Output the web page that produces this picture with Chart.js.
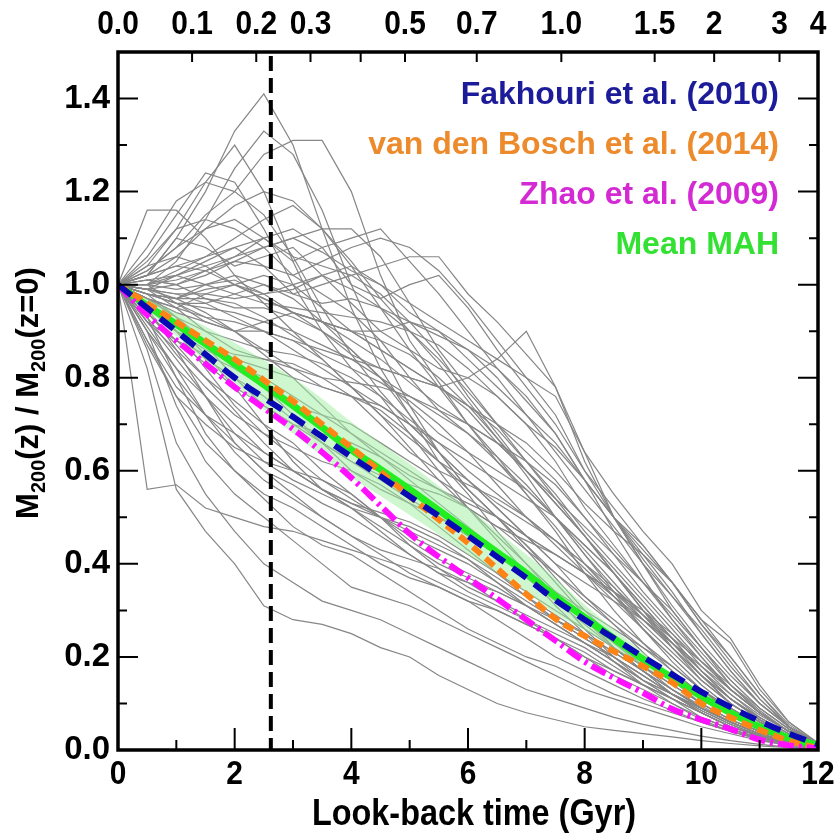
<!DOCTYPE html>
<html>
<head>
<meta charset="utf-8">
<script src="https://cdn.jsdelivr.net/npm/chart.js@4.4.1/dist/chart.umd.min.js"></script>
<style>
html,body{margin:0;padding:0;background:#fff;}
#wrap{width:838px;height:834px;}
</style>
</head>
<body>
<div id="wrap"><canvas id="c" width="838" height="834"></canvas></div>
<script>
// ---------- DATA ----------
const lookback = [0,0.5,1,1.5,2,2.5,3,3.5,4,4.5,5,5.5,6,6.5,7,7.5,8,8.5,9,9.5,10,10.5,11,11.5,12];

// individual halo mass accretion histories (grey)
const mah01 = [1,1.02,1.1,1.2,1.33,1.41,1.3,1.12,0.95,0.82,0.72,0.62,0.55,0.47,0.40,0.33,0.26,0.2,0.15,0.11,0.07,0.045,0.025,0.012,0.004];
const mah02 = [1,1.0,1.05,1.14,1.25,1.33,1.28,1.16,1.0,0.86,0.74,0.64,0.56,0.5,0.43,0.36,0.29,0.22,0.17,0.12,0.08,0.05,0.03,0.015,0.005];
const mah03 = [1,1.03,1.08,1.15,1.2,1.28,1.31,1.31,1.2,1.02,0.88,0.79,0.7,0.62,0.55,0.47,0.38,0.3,0.23,0.17,0.12,0.08,0.05,0.025,0.008];
const mah04 = [1,1.04,1.12,1.22,1.3,1.2,1.05,0.92,0.86,0.8,0.72,0.64,0.56,0.5,0.44,0.37,0.3,0.24,0.18,0.13,0.09,0.06,0.035,0.018,0.006];
const mah05 = [1,1.06,1.15,1.24,1.22,1.12,1.0,0.9,0.82,0.76,0.68,0.6,0.52,0.45,0.38,0.31,0.25,0.19,0.14,0.1,0.065,0.04,0.022,0.01,0.003];
const mah06 = [1,1.08,1.18,1.22,1.2,1.15,1.06,0.95,0.85,0.77,0.7,0.64,0.58,0.52,0.46,0.4,0.33,0.27,0.21,0.15,0.1,0.065,0.04,0.02,0.007];
const mah07 = [1,1.16,1.16,1.1,1.02,0.96,0.9,0.84,0.78,0.72,0.65,0.58,0.52,0.46,0.4,0.34,0.28,0.22,0.17,0.12,0.08,0.05,0.03,0.015,0.005];
const mah08 = [1,1.02,1.04,1.06,1.08,1.1,1.05,1.08,1.1,1.12,1.05,0.98,0.9,0.82,0.75,0.68,0.58,0.47,0.37,0.28,0.2,0.13,0.08,0.04,0.012];
const mah09 = [1,0.98,0.97,1.0,1.02,1.0,0.98,1.0,1.02,1.04,1.06,1.06,0.98,0.92,0.85,0.78,0.64,0.5,0.4,0.31,0.23,0.16,0.1,0.05,0.015];
const mah10 = [1,0.97,0.95,0.93,0.92,0.9,0.88,0.86,0.84,0.82,0.8,0.78,0.8,0.84,0.9,0.78,0.62,0.5,0.4,0.3,0.22,0.14,0.08,0.04,0.01];
const mah11 = [1,1.0,1.01,1.03,1.05,1.08,1.1,1.07,1.03,1.0,0.96,0.92,0.88,0.84,0.8,0.76,0.64,0.55,0.47,0.4,0.3,0.24,0.14,0.06,0.015];
const mah12 = [1,0.99,0.98,0.98,0.97,0.98,1.0,1.02,0.99,0.95,0.92,0.89,0.86,0.82,0.76,0.68,0.58,0.5,0.44,0.36,0.27,0.2,0.12,0.05,0.012];
const mah13 = [1,1.02,1.06,1.12,1.17,1.2,1.18,1.12,1.05,0.97,0.9,0.83,0.75,0.67,0.59,0.5,0.42,0.34,0.26,0.19,0.13,0.08,0.045,0.02,0.006];
const mah14 = [1,1.0,1.03,1.06,1.1,1.14,1.17,1.12,1.04,0.95,0.86,0.78,0.7,0.63,0.55,0.48,0.4,0.33,0.26,0.2,0.14,0.09,0.05,0.022,0.006];
const mah15 = [1,1.01,1.02,1.04,1.06,1.08,1.1,1.12,1.12,1.06,0.96,0.86,0.78,0.7,0.62,0.54,0.46,0.38,0.3,0.23,0.16,0.1,0.06,0.03,0.008];
const mah16 = [1,1.03,1.08,1.12,1.14,1.1,1.06,1.04,1.02,0.98,0.92,0.85,0.76,0.68,0.6,0.53,0.46,0.38,0.3,0.22,0.15,0.1,0.06,0.03,0.008];
const mah17 = [1,0.98,0.96,0.95,0.94,0.92,0.9,0.87,0.84,0.8,0.76,0.72,0.68,0.63,0.57,0.5,0.43,0.36,0.29,0.22,0.16,0.1,0.06,0.03,0.008];
const mah18 = [1,1.0,0.99,1.0,1.01,0.98,0.94,0.9,0.85,0.82,0.8,0.78,0.74,0.69,0.62,0.55,0.47,0.4,0.33,0.26,0.19,0.13,0.08,0.04,0.01];
const mah19 = [1,0.97,0.93,0.9,0.88,0.86,0.85,0.83,0.8,0.76,0.71,0.66,0.6,0.55,0.5,0.45,0.4,0.35,0.29,0.23,0.17,0.11,0.07,0.035,0.01];
const mah20 = [1,0.99,0.98,0.96,0.93,0.9,0.86,0.82,0.78,0.74,0.7,0.66,0.62,0.58,0.54,0.5,0.44,0.38,0.31,0.24,0.17,0.11,0.065,0.03,0.008];
const mah21 = [1,0.96,0.92,0.88,0.84,0.82,0.8,0.78,0.76,0.73,0.68,0.62,0.56,0.5,0.44,0.38,0.32,0.27,0.22,0.17,0.12,0.08,0.045,0.02,0.005];
const mah22 = [1,1.01,1.0,0.97,0.95,0.95,0.93,0.9,0.86,0.8,0.74,0.68,0.64,0.6,0.56,0.5,0.42,0.35,0.28,0.22,0.16,0.11,0.065,0.03,0.008];
const mah23 = [1,0.98,0.97,0.97,0.96,0.93,0.89,0.85,0.82,0.79,0.75,0.7,0.64,0.57,0.5,0.44,0.38,0.32,0.26,0.2,0.14,0.09,0.05,0.025,0.006];
const mah24 = [1,0.99,0.95,0.9,0.86,0.84,0.83,0.8,0.76,0.7,0.64,0.6,0.57,0.54,0.5,0.45,0.39,0.33,0.27,0.21,0.15,0.1,0.06,0.03,0.008];
const mah25 = [1,0.97,0.94,0.92,0.9,0.9,0.88,0.84,0.78,0.72,0.67,0.62,0.58,0.52,0.46,0.4,0.36,0.32,0.28,0.23,0.17,0.12,0.075,0.04,0.012];
const mah26 = [1,0.98,0.96,0.93,0.9,0.86,0.82,0.78,0.76,0.74,0.7,0.64,0.58,0.53,0.49,0.45,0.4,0.34,0.28,0.22,0.16,0.11,0.07,0.035,0.01];
const mah27 = [1,0.94,0.88,0.83,0.78,0.74,0.7,0.66,0.62,0.58,0.54,0.5,0.46,0.42,0.37,0.32,0.27,0.22,0.17,0.13,0.09,0.06,0.035,0.017,0.005];
const mah28 = [1,0.93,0.85,0.78,0.72,0.68,0.65,0.62,0.6,0.57,0.53,0.48,0.43,0.38,0.33,0.28,0.24,0.2,0.16,0.12,0.085,0.055,0.03,0.015,0.004];
const mah29 = [1,0.95,0.9,0.84,0.8,0.76,0.71,0.66,0.6,0.56,0.53,0.5,0.47,0.43,0.38,0.33,0.28,0.23,0.18,0.14,0.1,0.065,0.04,0.02,0.006];
const mah30 = [1,0.9,0.82,0.76,0.7,0.64,0.6,0.56,0.53,0.5,0.47,0.44,0.41,0.37,0.33,0.29,0.25,0.21,0.17,0.13,0.09,0.06,0.035,0.017,0.005];
const mah31 = [1,0.92,0.84,0.76,0.68,0.62,0.58,0.55,0.52,0.5,0.48,0.45,0.41,0.36,0.31,0.27,0.23,0.19,0.15,0.11,0.08,0.05,0.03,0.014,0.004];
const mah32 = [1,0.88,0.78,0.72,0.68,0.64,0.6,0.56,0.52,0.47,0.42,0.38,0.34,0.31,0.28,0.25,0.22,0.18,0.14,0.11,0.08,0.05,0.03,0.014,0.004];
const mah33 = [1,0.56,0.57,0.52,0.5,0.48,0.47,0.45,0.43,0.41,0.39,0.36,0.33,0.3,0.27,0.24,0.21,0.17,0.14,0.11,0.08,0.05,0.03,0.015,0.004];
const mah34 = [1,0.82,0.56,0.47,0.40,0.31,0.28,0.27,0.25,0.22,0.2,0.16,0.13,0.1,0.08,0.065,0.05,0.042,0.035,0.028,0.02,0.014,0.009,0.005,0.002];
const mah35 = [1,0.86,0.66,0.55,0.47,0.4,0.36,0.32,0.3,0.28,0.25,0.22,0.19,0.16,0.13,0.11,0.09,0.07,0.055,0.042,0.03,0.02,0.012,0.006,0.002];
const mah36 = [1,0.9,0.74,0.62,0.55,0.5,0.45,0.4,0.35,0.33,0.31,0.28,0.25,0.22,0.19,0.16,0.13,0.11,0.09,0.07,0.05,0.035,0.02,0.01,0.003];
const mah37 = [1,0.88,0.76,0.66,0.6,0.54,0.48,0.44,0.42,0.38,0.34,0.3,0.26,0.23,0.2,0.18,0.15,0.12,0.1,0.08,0.06,0.04,0.025,0.012,0.003];
const mah38 = [1,0.93,0.8,0.68,0.6,0.55,0.52,0.48,0.44,0.4,0.37,0.35,0.32,0.28,0.24,0.2,0.17,0.14,0.11,0.085,0.06,0.04,0.025,0.012,0.004];
const mah39 = [1,0.91,0.82,0.72,0.64,0.58,0.54,0.5,0.46,0.43,0.41,0.39,0.36,0.32,0.28,0.24,0.2,0.16,0.13,0.1,0.07,0.045,0.027,0.013,0.004];
const mah40 = [1,0.95,0.86,0.76,0.66,0.6,0.57,0.53,0.5,0.46,0.42,0.38,0.36,0.34,0.31,0.27,0.23,0.19,0.15,0.12,0.09,0.06,0.035,0.017,0.005];
const mah41 = [1,0.96,0.9,0.82,0.74,0.68,0.63,0.58,0.54,0.5,0.46,0.43,0.4,0.36,0.32,0.28,0.24,0.2,0.16,0.12,0.09,0.06,0.035,0.017,0.005];
const mah42 = [1,0.92,0.86,0.8,0.75,0.7,0.66,0.6,0.55,0.5,0.45,0.41,0.38,0.35,0.31,0.27,0.23,0.19,0.15,0.12,0.085,0.055,0.032,0.016,0.005];
const mah43 = [1,1.04,1.06,1.04,1.0,0.97,0.94,0.92,0.9,0.88,0.85,0.8,0.74,0.67,0.6,0.53,0.46,0.39,0.32,0.25,0.18,0.12,0.07,0.035,0.01];
const mah44 = [1,1.02,1.1,1.08,1.04,1.06,1.08,1.02,0.96,0.9,0.86,0.82,0.8,0.76,0.7,0.62,0.52,0.44,0.36,0.28,0.21,0.14,0.085,0.04,0.012];
const mah45 = [1,0.99,1.02,1.05,1.08,1.04,0.98,0.96,0.97,0.95,0.9,0.84,0.77,0.7,0.64,0.58,0.5,0.42,0.34,0.27,0.2,0.13,0.08,0.04,0.012];
const mah46 = [1,0.97,0.95,0.98,1.0,1.02,1.0,0.95,0.9,0.86,0.82,0.78,0.73,0.66,0.6,0.54,0.48,0.42,0.36,0.3,0.22,0.15,0.09,0.045,0.012];
const mah47 = [1,1.05,1.12,1.14,1.12,1.08,1.02,0.98,0.94,0.88,0.8,0.73,0.68,0.62,0.56,0.5,0.44,0.38,0.3,0.24,0.17,0.11,0.065,0.03,0.008];
const mah48 = [1,1.0,0.96,0.92,0.9,0.92,0.94,0.92,0.88,0.84,0.79,0.74,0.7,0.66,0.62,0.57,0.5,0.43,0.36,0.29,0.22,0.15,0.09,0.045,0.012];
const mah49 = [1,0.95,0.9,0.87,0.85,0.84,0.82,0.8,0.79,0.78,0.76,0.73,0.7,0.66,0.6,0.53,0.46,0.38,0.31,0.24,0.17,0.11,0.065,0.03,0.008];
const mah50 = [1,0.98,0.93,0.88,0.82,0.78,0.74,0.72,0.7,0.66,0.62,0.58,0.54,0.5,0.46,0.42,0.38,0.33,0.28,0.23,0.18,0.13,0.08,0.04,0.012];
const mah51 = [1,1.0,1.02,1.0,0.98,0.96,0.95,0.94,0.93,0.92,0.9,0.87,0.82,0.76,0.7,0.65,0.58,0.5,0.42,0.34,0.25,0.17,0.1,0.05,0.014];
const mah52 = [1,0.96,0.9,0.86,0.83,0.8,0.76,0.72,0.68,0.64,0.6,0.56,0.52,0.48,0.45,0.42,0.38,0.34,0.29,0.24,0.19,0.14,0.09,0.045,0.012];
const mah53 = [1,0.98,0.97,0.99,1.0,0.97,0.94,0.92,0.9,0.86,0.82,0.78,0.74,0.7,0.66,0.6,0.53,0.47,0.42,0.36,0.28,0.23,0.13,0.06,0.015];
const mah54 = [1,0.9,0.8,0.72,0.66,0.6,0.55,0.5,0.46,0.42,0.38,0.35,0.32,0.3,0.27,0.24,0.2,0.17,0.14,0.11,0.08,0.05,0.03,0.015,0.004];
const mah55 = [1,0.94,0.87,0.8,0.73,0.66,0.6,0.56,0.53,0.51,0.49,0.46,0.42,0.38,0.34,0.3,0.26,0.22,0.18,0.14,0.1,0.065,0.04,0.02,0.005];
const mah56 = [1,0.87,0.76,0.7,0.65,0.62,0.6,0.58,0.55,0.5,0.44,0.39,0.35,0.32,0.29,0.26,0.23,0.2,0.16,0.12,0.09,0.06,0.035,0.017,0.005];
const mah57 = [1,0.95,0.91,0.85,0.78,0.7,0.62,0.56,0.52,0.48,0.44,0.4,0.37,0.34,0.31,0.28,0.25,0.21,0.17,0.13,0.095,0.06,0.035,0.017,0.005];
const mah58 = [1,0.97,0.93,0.87,0.8,0.74,0.7,0.68,0.66,0.63,0.58,0.53,0.48,0.43,0.38,0.34,0.3,0.26,0.22,0.18,0.13,0.09,0.055,0.028,0.008];
const mah59 = [1,0.92,0.88,0.85,0.82,0.78,0.72,0.66,0.62,0.59,0.57,0.55,0.52,0.48,0.43,0.38,0.33,0.28,0.23,0.18,0.13,0.085,0.05,0.025,0.007];
const mah60 = [1,0.99,0.97,0.94,0.9,0.85,0.8,0.74,0.68,0.63,0.59,0.56,0.53,0.5,0.46,0.42,0.38,0.34,0.3,0.25,0.19,0.13,0.08,0.04,0.01];
const mah61 = [1,1.01,1.0,1.02,1.05,1.04,1.02,1.05,1.08,1.1,1.08,1.03,0.96,0.88,0.8,0.72,0.6,0.5,0.41,0.33,0.25,0.17,0.1,0.05,0.014];
const mah62 = [1,0.99,1.0,1.03,1.06,1.1,1.12,1.08,1.0,0.97,1.0,1.02,0.95,0.86,0.78,0.7,0.6,0.52,0.44,0.36,0.27,0.19,0.11,0.05,0.013];
const mah63 = [1,1.02,1.04,1.03,1.0,0.98,0.99,1.02,1.04,1.0,0.94,0.9,0.86,0.8,0.72,0.64,0.56,0.48,0.4,0.33,0.26,0.18,0.11,0.05,0.013];
const mah64 = [1,0.98,0.96,0.96,0.98,1.0,0.97,0.92,0.9,0.9,0.92,0.9,0.84,0.78,0.72,0.66,0.58,0.5,0.43,0.36,0.28,0.2,0.12,0.055,0.014];
const individualMAHs = [mah01,mah02,mah03,mah04,mah05,mah06,mah07,mah08,mah09,mah10,mah11,mah12,mah13,mah14,mah15,mah16,mah17,mah18,mah19,mah20,
  mah21,mah22,mah23,mah24,mah25,mah26,mah27,mah28,mah29,mah30,mah31,mah32,mah33,mah34,mah35,mah36,mah37,mah38,mah39,mah40,
  mah41,mah42,mah43,mah44,mah45,mah46,mah47,mah48,mah49,mah50,mah51,mah52,mah53,mah54,mah55,mah56,mah57,mah58,mah59,mah60,
  mah61,mah62,mah63,mah64];

// model / mean curves
const meanMAH      = [1,0.955,0.915,0.873,0.83,0.785,0.74,0.693,0.645,0.603,0.56,0.515,0.47,0.425,0.38,0.33,0.285,0.24,0.195,0.155,0.115,0.08,0.05,0.026,0.01];
const meanUpper    = [1,0.97,0.94,0.91,0.875,0.838,0.8,0.755,0.705,0.66,0.615,0.567,0.52,0.47,0.42,0.368,0.312,0.26,0.21,0.165,0.122,0.085,0.054,0.028,0.011];
const meanLower    = [1,0.94,0.89,0.836,0.785,0.732,0.68,0.631,0.585,0.546,0.505,0.463,0.42,0.38,0.34,0.292,0.258,0.22,0.18,0.145,0.108,0.075,0.046,0.024,0.009];
const fakhouri2010 = [1,0.95,0.9,0.85,0.8,0.757,0.716,0.673,0.63,0.588,0.545,0.503,0.46,0.415,0.37,0.322,0.28,0.24,0.2,0.162,0.125,0.092,0.062,0.035,0.012];
const vdBosch2014  = [1,0.96,0.92,0.88,0.84,0.795,0.75,0.7,0.65,0.598,0.545,0.495,0.445,0.39,0.335,0.282,0.245,0.212,0.18,0.145,0.1,0.07,0.043,0.02,0.004];
const zhao2009     = [1,0.935,0.88,0.83,0.78,0.735,0.69,0.64,0.585,0.525,0.465,0.415,0.37,0.325,0.28,0.235,0.19,0.155,0.123,0.088,0.065,0.045,0.022,0.01,0.003];

// axes
const yTickValues  = [0,0.2,0.4,0.6,0.8,1.0,1.2,1.4];
const yMinorValues = [0.1,0.3,0.5,0.7,0.9,1.1,1.3];
const xTickValues  = [0,2,4,6,8,10,12];
const xMinorValues = [1,3,5,7,9,11];
const zTickLookback = [0,1.27,2.37,3.30,4.16,4.92,6.15,7.60,9.20,10.22,11.34,12.0];
const zTickLabels   = ['0.0','0.1','0.2','0.3','','0.5','0.7','1.0','1.5','2','3','4'];
const markerLookback = 2.62;
const xAxisTitle = 'Look-back time (Gyr)';
const legendLabels = ['Fakhouri et al. (2010)','van den Bosch et al. (2014)','Zhao et al. (2009)','Mean MAH'];
const legendColors = ['#1c1c9a','#ec8a2c','#d42ad4','#33e133'];

// ---------- CHART ----------
const SANS = '"Liberation Sans",Arial,Helvetica,sans-serif';
const pts = arr => lookback.map((x,i)=>({x:x,y:arr[i]}));

const datasets = [];
datasets.push({data:pts(fakhouri2010), borderColor:'#0a0ab4', borderWidth:6, borderDash:[17,10], order:0, cubicInterpolationMode:'monotone'});
datasets.push({data:pts(zhao2009), borderColor:'#ff10ff', borderWidth:6, borderDash:[16,5,3,5], order:1, cubicInterpolationMode:'monotone'});
datasets.push({data:pts(vdBosch2014), borderColor:'#ff8416', borderWidth:6, borderDash:[11,6], order:2, cubicInterpolationMode:'monotone'});
datasets.push({data:pts(meanMAH), borderColor:'#22ee22', borderWidth:7, order:3, cubicInterpolationMode:'monotone'});
datasets.push({data:pts(meanUpper), borderColor:'rgba(0,0,0,0)', borderWidth:0, order:4, fill:false, cubicInterpolationMode:'monotone'});
datasets.push({data:pts(meanLower), borderColor:'rgba(0,0,0,0)', borderWidth:0, order:5, fill:'-1', backgroundColor:'rgba(160,240,160,0.5)', cubicInterpolationMode:'monotone'});
individualMAHs.forEach(arr=>{
  datasets.push({data:pts(arr), borderColor:'#868686', borderWidth:1.2, order:10, tension:0});
});

function condensedText(ctx, text, cx, cy, size, sx){
  ctx.save();
  ctx.translate(cx, cy); ctx.scale(sx, 1);
  ctx.font = 'bold '+size+'px '+SANS;
  ctx.textAlign = 'center'; ctx.textBaseline = 'middle';
  ctx.fillStyle = '#000';
  ctx.fillText(text, 0, 0);
  ctx.restore();
}

const decor = {
  id:'decor',
  afterDatasetsDraw(chart){
    const {ctx, chartArea:a, scales:{x}} = chart;
    ctx.save();
    ctx.strokeStyle='#000'; ctx.lineWidth=4; ctx.setLineDash([15,7]);
    const vx = x.getPixelForValue(markerLookback);
    ctx.beginPath(); ctx.moveTo(vx,a.top+4); ctx.lineTo(vx,a.bottom); ctx.stroke();
    ctx.restore();
  },
  afterDraw(chart){
    const {ctx, chartArea:a, scales:{x,y}} = chart;
    ctx.save();
    ctx.strokeStyle='#000'; ctx.lineCap='butt';
    // ticks
    ctx.lineWidth=2;
    ctx.beginPath();
    yTickValues.forEach(v=>{const p=y.getPixelForValue(v); ctx.moveTo(a.left,p); ctx.lineTo(a.left+20,p); ctx.moveTo(a.right,p); ctx.lineTo(a.right-20,p);});
    yMinorValues.forEach(v=>{const p=y.getPixelForValue(v); ctx.moveTo(a.left,p); ctx.lineTo(a.left+9,p); ctx.moveTo(a.right,p); ctx.lineTo(a.right-9,p);});
    xTickValues.forEach(v=>{const p=x.getPixelForValue(v); ctx.moveTo(p,a.bottom); ctx.lineTo(p,a.bottom-22);});
    xMinorValues.forEach(v=>{const p=x.getPixelForValue(v); ctx.moveTo(p,a.bottom); ctx.lineTo(p,a.bottom-10);});
    zTickLookback.forEach(v=>{const p=x.getPixelForValue(v); ctx.moveTo(p,a.top); ctx.lineTo(p,a.top+10);});
    ctx.stroke();
    // frame
    ctx.lineWidth=3.5;
    ctx.strokeRect(a.left,a.top,a.right-a.left,a.bottom-a.top);
    ctx.restore();
    // bottom tick labels, top redshift labels, x title (condensed bold)
    xTickValues.forEach(v=>condensedText(ctx, String(v), x.getPixelForValue(v), a.bottom+25, 34, 0.88));
    zTickLookback.forEach((v,i)=>{ if(zTickLabels[i]) condensedText(ctx, zTickLabels[i], x.getPixelForValue(v), a.top-27, 34, 0.88); });
    condensedText(ctx, xAxisTitle, (a.left+a.right)/2 + 6, a.bottom+65, 36, 0.9);
    // legend
    ctx.save();
    ctx.font='bold 32px '+SANS;
    ctx.textAlign='right'; ctx.textBaseline='middle';
    const ly=[95,145,195,245];
    legendLabels.forEach((t,i)=>{ctx.fillStyle=legendColors[i]; ctx.fillText(t,779,ly[i]);});
    // y title with subscripts
    const parts=[['M',0],['200',1],['(z) / M',0],['200',1],['(z=0)',0]];
    const mainF='bold 31px '+SANS, subF='bold 20px '+SANS;
    let total=0;
    parts.forEach(p=>{ctx.font=p[1]?subF:mainF; total+=ctx.measureText(p[0]).width;});
    ctx.translate(38,393); ctx.rotate(-Math.PI/2);
    ctx.fillStyle='#000'; ctx.textAlign='left'; ctx.textBaseline='alphabetic';
    let cx=-total/2;
    parts.forEach(p=>{ctx.font=p[1]?subF:mainF; ctx.fillText(p[0],cx,p[1]?7:0); cx+=ctx.measureText(p[0]).width;});
    ctx.restore();
  }
};

new Chart(document.getElementById('c'),{
  type:'line',
  data:{datasets:datasets},
  options:{
    responsive:false, animation:false, devicePixelRatio:1,
    layout:{padding:{left:0,right:20,top:0,bottom:0}},
    elements:{point:{radius:0}},
    plugins:{legend:{display:false}, tooltip:{enabled:false}},
    scales:{
      x:{type:'linear', position:'bottom', min:0, max:12,
        grid:{display:false, drawTicks:false}, border:{display:false},
        ticks:{display:false},
        afterFit:s=>{s.height=84;}
      },
      x2:{type:'linear', position:'top', min:0, max:12,
        grid:{display:false, drawTicks:false}, border:{display:false},
        ticks:{display:false},
        afterFit:s=>{s.height=52;}
      },
      y:{type:'linear', position:'left', min:0, max:1.5,
        grid:{display:false, drawTicks:false}, border:{display:false},
        afterBuildTicks:s=>{s.ticks=yTickValues.map(v=>({value:v}));},
        ticks:{autoSkip:false, padding:8, color:'#000', font:{family:SANS, size:33, weight:'bold'},
          callback:v=>Number(v).toFixed(1)},
        afterFit:s=>{s.width=118;}
      }
    }
  },
  plugins:[decor]
});
</script>
</body>
</html>
